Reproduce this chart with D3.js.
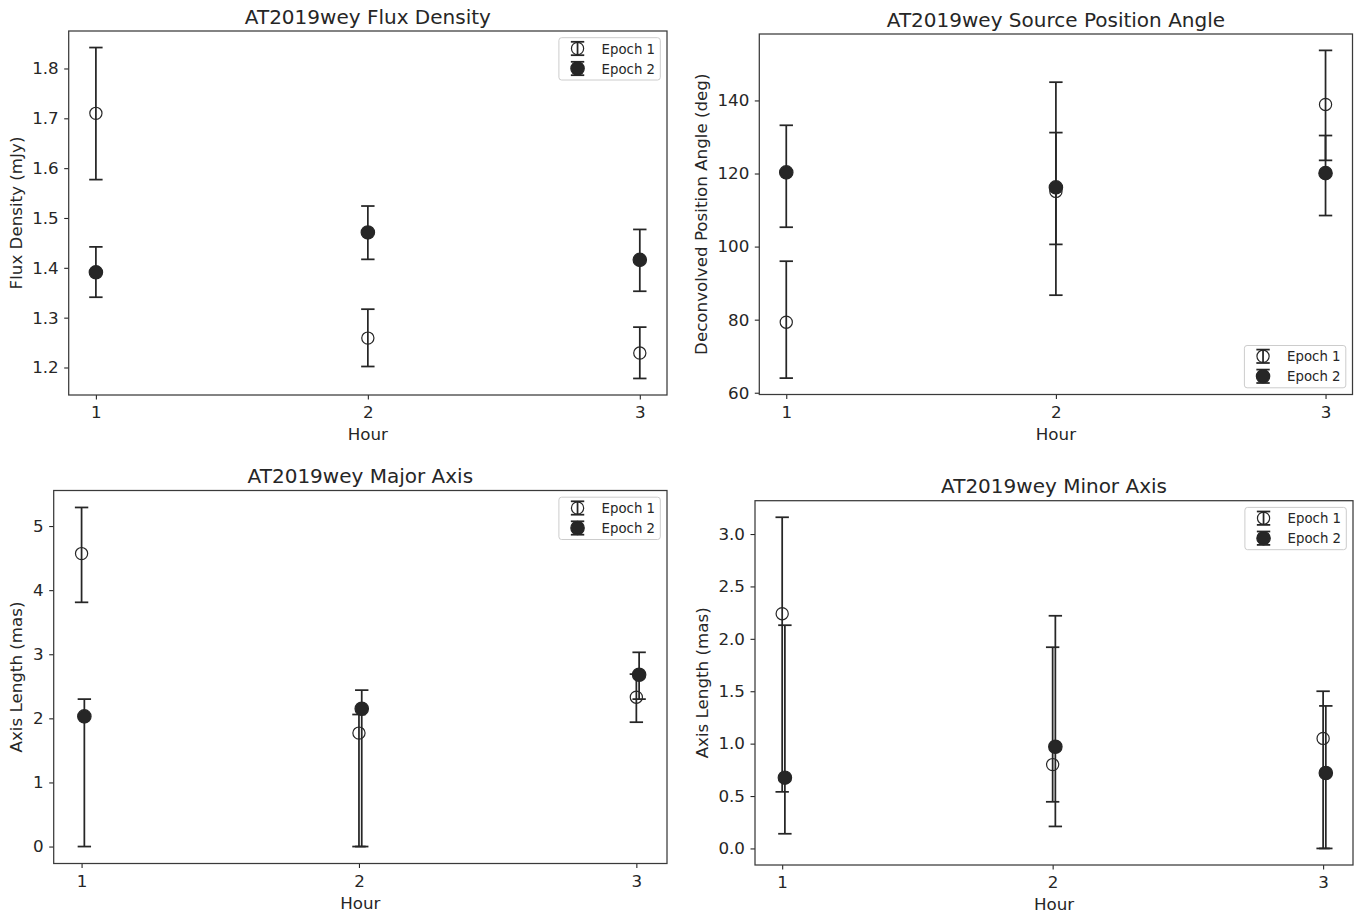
<!DOCTYPE html>
<html>
<head>
<meta charset="utf-8">
<script src="https://cdn.jsdelivr.net/npm/d3@7"></script>
<style>
  body { margin: 0; background: #fff; }
  svg { display: block; font-family: "DejaVu Sans", sans-serif; }
</style>
</head>
<body>
<svg id="fig" width="1358" height="915"></svg>
<script>
// ---- data -------------------------------------------------------------
const hours = [1, 2, 3];
const epochNames = ["Epoch 1", "Epoch 2"];

// Flux density (mJy): value, lower and upper error-bar ends
const fluxE1   = [1.710, 1.259, 1.229];
const fluxE1Lo = [1.577, 1.202, 1.178];
const fluxE1Hi = [1.842, 1.317, 1.281];
const fluxE2   = [1.391, 1.471, 1.416];
const fluxE2Lo = [1.341, 1.417, 1.353];
const fluxE2Hi = [1.442, 1.524, 1.477];
const fluxTicks = [1.2, 1.3, 1.4, 1.5, 1.6, 1.7, 1.8];

// Deconvolved position angle (deg)
const paE1   = [79.3, 115.1, 138.9];
const paE1Lo = [64.0, 86.7, 123.6];
const paE1Hi = [96.0, 145.0, 153.7];
const paE2   = [120.3, 116.2, 120.1];
const paE2Lo = [105.3, 100.6, 108.5];
const paE2Hi = [133.2, 131.2, 130.4];
const paTicks = [60, 80, 100, 120, 140];

// Major axis length (mas)
const majE1   = [4.57, 1.77, 2.33];
const majE1Lo = [3.81, 0.00, 1.94];
const majE1Hi = [5.29, 2.06, 2.69];
const majE2   = [2.03, 2.15, 2.68];
const majE2Lo = [0.00, 0.00, 2.30];
const majE2Hi = [2.30, 2.44, 3.03];
const majTicks = [0, 1, 2, 3, 4, 5];

// Minor axis length (mas)
const minE1   = [2.24, 0.80, 1.05];
const minE1Lo = [0.54, 0.445, 0.00];
const minE1Hi = [3.16, 1.92, 1.50];
const minE2   = [0.675, 0.97, 0.72];
const minE2Lo = [0.14, 0.21, 0.00];
const minE2Hi = [2.13, 2.22, 1.36];
const minTicks = [0.0, 0.5, 1.0, 1.5, 2.0, 2.5, 3.0];

// hour shift applied to the second epoch in the axis-size panels
const axisEpochShift = 0.01;

// ---- panel setup ------------------------------------------------------
const INK = "#262626";
const TICK_FS = 16.7, LABEL_FS = 16.7, TITLE_FS = 20, LEG_FS = 13.3;

const panels = [
  {
    title: "AT2019wey Flux Density", ylabel: "Flux Density (mJy)",
    box: { left: 68.7, right: 667, top: 31, bottom: 395 },
    ticks: fluxTicks, fmt: d3.format(".1f"), legend: "upper", shift: 0,
    series: [
      { v: fluxE1, lo: fluxE1Lo, hi: fluxE1Hi, filled: false },
      { v: fluxE2, lo: fluxE2Lo, hi: fluxE2Hi, filled: true }
    ]
  },
  {
    title: "AT2019wey Source Position Angle", ylabel: "Deconvolved Position Angle (deg)",
    box: { left: 759.3, right: 1352.5, top: 34, bottom: 394.5 },
    ticks: paTicks, fmt: d3.format("d"), legend: "lower", shift: 0,
    series: [
      { v: paE1, lo: paE1Lo, hi: paE1Hi, filled: false },
      { v: paE2, lo: paE2Lo, hi: paE2Hi, filled: true }
    ]
  },
  {
    title: "AT2019wey Major Axis", ylabel: "Axis Length (mas)",
    box: { left: 53.7, right: 667, top: 490.5, bottom: 863.5 },
    ticks: majTicks, fmt: d3.format("d"), legend: "upper", shift: axisEpochShift,
    series: [
      { v: majE1, lo: majE1Lo, hi: majE1Hi, filled: false },
      { v: majE2, lo: majE2Lo, hi: majE2Hi, filled: true }
    ]
  },
  {
    title: "AT2019wey Minor Axis", ylabel: "Axis Length (mas)",
    box: { left: 755, right: 1353, top: 500.7, bottom: 865 },
    ticks: minTicks, fmt: d3.format(".1f"), legend: "upper", shift: axisEpochShift,
    series: [
      { v: minE1, lo: minE1Lo, hi: minE1Hi, filled: false },
      { v: minE2, lo: minE2Lo, hi: minE2Hi, filled: true }
    ]
  }
];

const svg = d3.select("#fig");
const CAP = 6.7;          // half cap width
const R_OPEN = 6.1, R_FILL = 6.7, MARK_SW = 1.2, BAR_SW = 1.75;

function marker(sel, cx, cy, filled) {
  sel.append("circle")
    .attr("cx", cx).attr("cy", cy)
    .attr("r", filled ? R_FILL : R_OPEN)
    .attr("fill", filled ? INK : "none")
    .attr("stroke", INK).attr("stroke-width", MARK_SW);
}
function cap(sel, cx, cy) {
  sel.append("line")
    .attr("x1", cx - CAP).attr("x2", cx + CAP)
    .attr("y1", cy).attr("y2", cy)
    .attr("stroke", INK).attr("stroke-width", BAR_SW);
}

panels.forEach(p => {
  const g = svg.append("g");
  const b = p.box;

  // autoscale with 5% margins, as in the original plotting defaults
  const xsAll = hours.concat(hours.map(h => h + p.shift));
  const xMin = d3.min(xsAll), xMax = d3.max(xsAll), xm = (xMax - xMin) * 0.05;
  const x = d3.scaleLinear().domain([xMin - xm, xMax + xm]).range([b.left, b.right]);
  const yMin = d3.min(p.series.flatMap(s => s.lo));
  const yMax = d3.max(p.series.flatMap(s => s.hi));
  const ym = (yMax - yMin) * 0.05;
  const y = d3.scaleLinear().domain([yMin - ym, yMax + ym]).range([b.bottom, b.top]);

  // axes
  const yAxis = d3.axisLeft(y).tickValues(p.ticks).tickFormat(p.fmt)
    .tickSize(4.5).tickPadding(5.5);
  const xAxis = d3.axisBottom(x).tickValues(hours).tickFormat(d3.format("d"))
    .tickSize(4.5).tickPadding(7);
  const ya = g.append("g").attr("transform", `translate(${b.left},0)`).call(yAxis);
  const xa = g.append("g").attr("transform", `translate(0,${b.bottom})`).call(xAxis);
  [ya, xa].forEach(a => {
    a.select(".domain").remove();
    a.selectAll(".tick line").attr("stroke", INK).attr("stroke-width", 1.1);
    a.selectAll(".tick text").attr("fill", INK)
      .style("font-size", TICK_FS + "px").style("font-family", "DejaVu Sans");
  });

  // frame
  g.append("rect")
    .attr("x", b.left).attr("y", b.top)
    .attr("width", b.right - b.left).attr("height", b.bottom - b.top)
    .attr("fill", "none").attr("stroke", "#3a3a3a").attr("stroke-width", 1.25);

  // title and axis labels
  g.append("text")
    .attr("x", (b.left + b.right) / 2).attr("y", b.top - 7.5)
    .attr("text-anchor", "middle").attr("fill", INK)
    .style("font-size", TITLE_FS + "px").text(p.title);
  g.append("text")
    .attr("x", (b.left + b.right) / 2).attr("y", b.bottom + 45)
    .attr("text-anchor", "middle").attr("fill", INK)
    .style("font-size", LABEL_FS + "px").text("Hour");
  let tw = 0;
  ya.selectAll(".tick text").each(function () { tw = Math.max(tw, this.getBBox().width); });
  const lx = b.left - 4.5 - 5.5 - tw - 6.7 - 3.9;
  const ly = (b.top + b.bottom) / 2;
  g.append("text")
    .attr("transform", `translate(${lx},${ly}) rotate(-90)`)
    .attr("text-anchor", "middle").attr("fill", INK)
    .style("font-size", LABEL_FS + "px").text(p.ylabel);

  // error bar stems (drawn beneath all markers)
  p.series.forEach((s, si) => {
    const sh = si === 1 ? p.shift : 0;
    hours.forEach((h, i) => {
      g.append("line")
        .attr("x1", x(h + sh)).attr("x2", x(h + sh))
        .attr("y1", y(s.lo[i])).attr("y2", y(s.hi[i]))
        .attr("stroke", INK).attr("stroke-width", BAR_SW);
    });
  });
  // markers, then caps, one epoch after the other
  p.series.forEach((s, si) => {
    const sh = si === 1 ? p.shift : 0;
    hours.forEach((h, i) => marker(g, x(h + sh), y(s.v[i]), s.filled));
    hours.forEach((h, i) => {
      cap(g, x(h + sh), y(s.lo[i]));
      cap(g, x(h + sh), y(s.hi[i]));
    });
  });

  // legend
  const pad = 6.7, bpad = 5.3, hlen = 26.7, hgap = 10.7, boxH = 42.3;
  const lg = g.append("g");
  const bg = lg.append("rect");
  const texts = epochNames.map((name, k) =>
    lg.append("text").attr("fill", INK).style("font-size", LEG_FS + "px").text(name));
  const textW = d3.max(texts, t => t.node().getComputedTextLength());
  const boxW = bpad + hlen + hgap + textW + bpad;
  const bx = b.right - pad - boxW;
  const by = p.legend === "upper" ? b.top + pad : b.bottom - pad - boxH;
  bg.attr("x", bx).attr("y", by).attr("width", boxW).attr("height", boxH)
    .attr("rx", 2.7).attr("fill", "#fff").attr("fill-opacity", 0.8)
    .attr("stroke", "#cccccc").attr("stroke-width", 1);
  epochNames.forEach((name, k) => {
    const cy = by + 10.8 + k * 20;
    const cx = bx + bpad + hlen / 2;
    lg.append("line").attr("x1", cx).attr("x2", cx)
      .attr("y1", cy - CAP).attr("y2", cy + CAP)
      .attr("stroke", INK).attr("stroke-width", BAR_SW);
    marker(lg, cx, cy, p.series[k].filled);
    cap(lg, cx, cy - CAP);
    cap(lg, cx, cy + CAP);
    texts[k].attr("x", bx + bpad + hlen + hgap).attr("y", cy + 5);
  });
});
</script>
</body>
</html>
